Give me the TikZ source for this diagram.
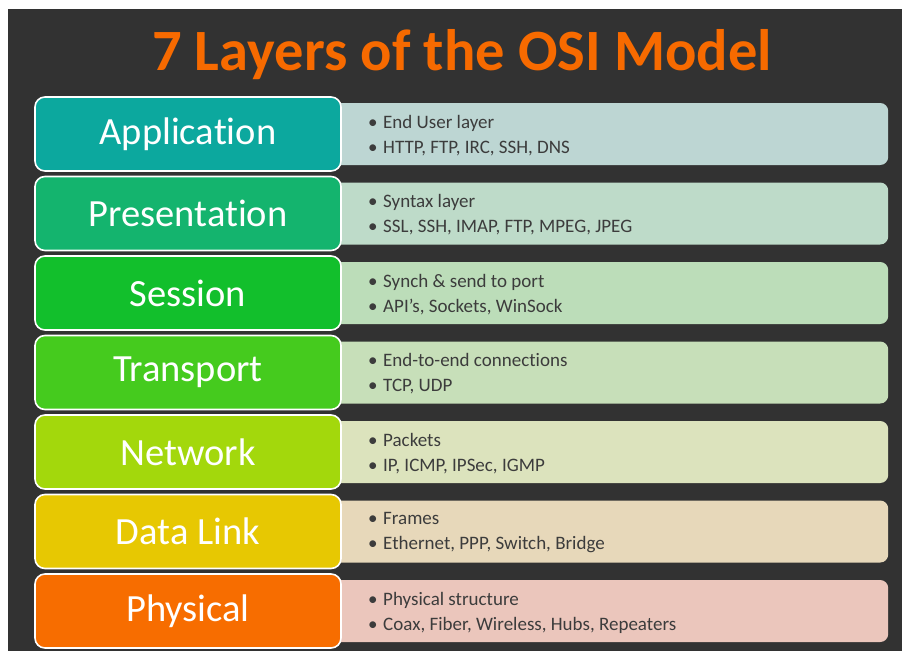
\documentclass[tikz,border=0pt]{standalone}
\usepackage{fontspec}
\setmainfont{Carlito}[Ligatures={NoCommon}]
\definecolor{bgdark}{HTML}{323232}
\definecolor{titleor}{HTML}{F76A00}
\definecolor{txtgray}{HTML}{3C3C3C}
\definecolor{cA}{HTML}{0CA89E}\definecolor{dA}{HTML}{BDD6D3}
\definecolor{cB}{HTML}{14B46E}\definecolor{dB}{HTML}{BEDBC9}
\definecolor{cC}{HTML}{12BF2C}\definecolor{dC}{HTML}{BCDDB9}
\definecolor{cD}{HTML}{45CB1E}\definecolor{dD}{HTML}{C7DFB9}
\definecolor{cE}{HTML}{A3D80C}\definecolor{dE}{HTML}{DCE3BD}
\definecolor{cF}{HTML}{E7C802}\definecolor{dF}{HTML}{E7D8BA}
\definecolor{cG}{HTML}{F76D00}\definecolor{dG}{HTML}{EBC6BC}
\tikzset{
  layerbox/.style={draw=white, line width=1.6pt, rounded corners=10pt, minimum width=306pt, minimum height=74pt, inner sep=0pt, text=white, font=\fontsize{38.5}{40}\selectfont},
  descbox/.style={rounded corners=8pt, minimum width=558pt, minimum height=62pt, inner sep=0pt, anchor=west},
  desctext/.style={anchor=west, align=left, text=txtgray, inner sep=0pt, font=\fontsize{19}{25}\selectfont},
}
\newcommand{\bul}[1]{\makebox[15pt][l]{\textbullet}#1}
\begin{document}
\begin{tikzpicture}[x=1pt,y=-1pt]
\useasboundingbox (0,0) rectangle (902,651);
\fill[white] (0,0) rectangle (902,651);
\fill[bgdark] (8,9) rectangle (902,651);
\node[text=titleor, font=\fontsize{58.5}{60}\selectfont\bfseries] (title) at (462,55) {7 Layers of the OSI Model};
\foreach \i/\c/\d/\name/\la/\lb in {
  0/A/Application/Application/End User layer/{HTTP, FTP, IRC, SSH, DNS},
  1/B/Presentation/Presentation/Syntax layer/{SSL, SSH, IMAP, FTP, MPEG, JPEG},
  2/C/Session/Session/Synch \& send to port/{API’s, Sockets, WinSock},
  3/D/Transport/Transport/End-to-end connections/{TCP, UDP},
  4/E/Network/Network/Packets/{IP, ICMP, IPSec, IGMP},
  5/F/DataLink/Data Link/Frames/{Ethernet, PPP, Switch, Bridge},
  6/G/Physical/Physical/Physical structure/{Coax, Fiber, Wireless, Hubs, Repeaters}}{
  \pgfmathsetmacro{\yc}{134+\i*79.5}
  \node[descbox, fill=d\c] (R\c) at (330,\yc) {};
  \node[layerbox, fill=c\c] (L\c) at (188,\yc) {\name};
  \node[desctext] (T\c) at (368,\yc+1.5) {\bul{\la}\\\bul{\lb}};
}
\end{tikzpicture}
\end{document}
